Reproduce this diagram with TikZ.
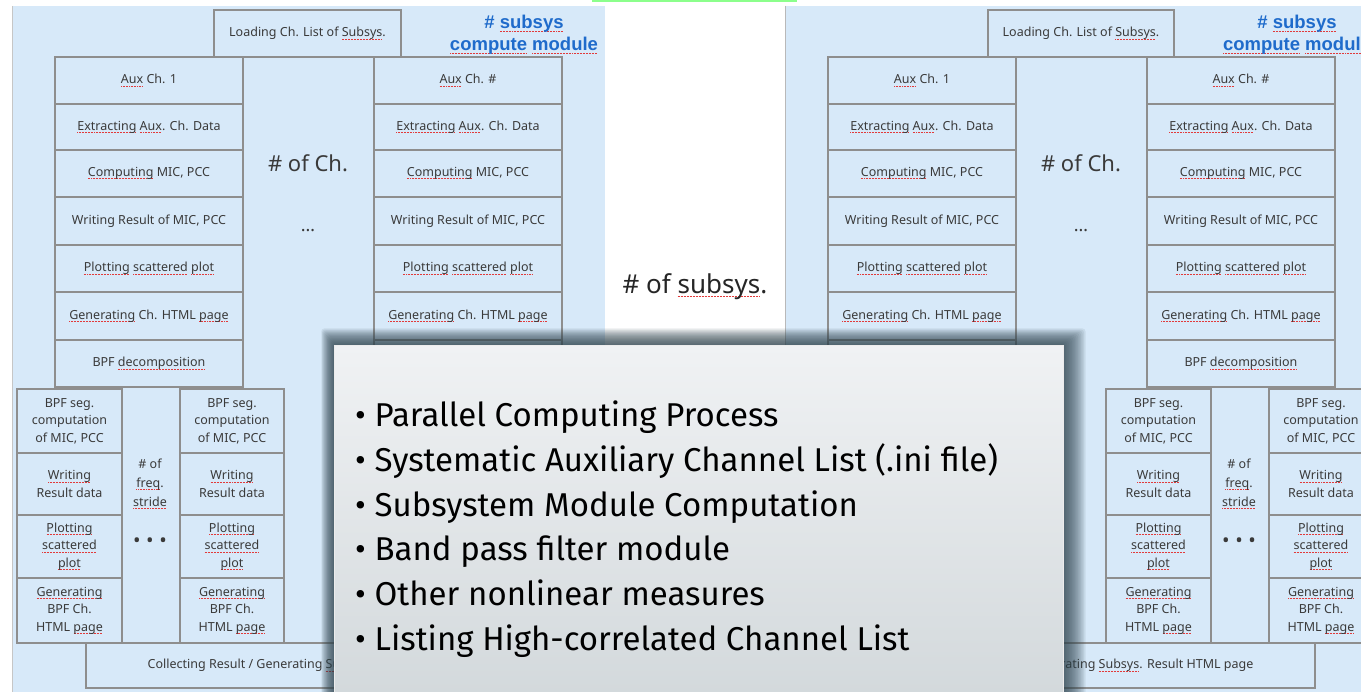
\documentclass[tikz,border=0pt]{standalone}
\usepackage{fontspec}
\setmainfont{Noto Sans}
\newfontfamily\bulletfont[FakeStretch=1.0]{Fira Sans}
\newfontfamily\bluefont{Liberation Sans}
\definecolor{panelblue}{HTML}{D7E9F9}
\definecolor{boxgray}{HTML}{8E8E8E}
\definecolor{txtgray}{HTML}{3A3A3A}
\definecolor{sqred}{HTML}{E23A3A}
\definecolor{bluetxt}{HTML}{1F6BCB}
\definecolor{shadowc}{HTML}{2E434D}
\definecolor{ovtop}{HTML}{F0F2F4}
\definecolor{ovbot}{HTML}{D2D8DB}
\newsavebox\sqbox
\newcommand\sq[1]{\sbox\sqbox{#1}\leavevmode\rlap{\textcolor{sqred}{\raisebox{-2.6pt}{\hbox to \wd\sqbox{\xleaders\hbox{\rule{0.9pt}{0.8pt}\kern0.6pt}\hfill}}}}\usebox\sqbox}
\tikzset{
  cell/.style={draw=boxgray, line width=1.1pt, inner sep=0pt, align=center,
    text=txtgray, font=\fontsize{12.5}{17.5}\selectfont},
  midtxt/.style={inner sep=0pt, align=center, text=txtgray, font=\fontsize{12.5}{19}\selectfont},
  bigtxt/.style={inner sep=0pt, text=txtgray},
  bluelab/.style={inner sep=0pt, anchor=base, text=bluetxt, font=\bluefont\bfseries\fontsize{18.5}{22}\selectfont},
  bul/.style={inner sep=0pt, anchor=base west, text=black, font=\bulletfont\fontsize{33}{40}\selectfont},
}
\newcommand\cell[6]{\node[cell, minimum width={(#4)-(#2)}, minimum height={(#5)-(#3)}] (#1) at ({((#2)+(#4))/2},{((#3)+(#5))/2}) {#6};}
\newcommand\chcol[5]{%
  \cell{#1-r1}{#2}{57}{#3}{104}{#4}
  \cell{#1-r2}{#2}{104}{#3}{150}{\sq{Extracting} \sq{Aux}. Ch. Data}
  \cell{#1-r3}{#2}{150}{#3}{197}{\sq{Computing} MIC, PCC}
  \cell{#1-r4}{#2}{197}{#3}{245}{Writing Result of MIC, PCC}
  \cell{#1-r5}{#2}{245}{#3}{292}{\sq{Plotting} \sq{scattered} \sq{plot}}
  \cell{#1-r6}{#2}{292}{#3}{340}{\sq{Generating} Ch. HTML \sq{page}}
  \cell{#1-r7}{#2}{340}{#3}{387}{#5}}
\newcommand\bpfsub[3]{%
  \cell{#1-s1}{#2}{389}{#3}{453}{BPF seg.\\computation\\of MIC, PCC}
  \cell{#1-s2}{#2}{453}{#3}{515}{\sq{Writing}\\Result data}
  \cell{#1-s3}{#2}{515}{#3}{578}{\sq{Plotting}\\\sq{scattered}\\\sq{plot}}
  \cell{#1-s4}{#2}{578}{#3}{643}{\sq{Generating}\\BPF Ch.\\HTML \sq{page}}}
\newcommand\bpf[2]{%
  \bpfsub{#1-a}{#2}{(#2)+105}
  \bpfsub{#1-b}{(#2)+163}{(#2)+267}
  \node[midtxt] (#1-fs) at ({(#2)+133},484) {\# of\\\sq{freq}.\\\sq{stride}};
  \node[midtxt, font=\fontsize{20}{20}\selectfont] (#1-dots) at ({(#2)+133},543) {•\hspace{5.5pt}•\hspace{5.5pt}•};}
\begin{document}
\begin{tikzpicture}[x=1pt,y=-1pt]
\useasboundingbox (0,0) rectangle (1361,692);
\clip (0,0) rectangle (1361,692);
\fill[white] (0,0) rectangle (1361,692);
% top green strip
\fill[green!45!white] (592,0) rectangle (797,1.8);
% ---------- left panel ----------
\fill[panelblue] (12,6) rectangle (605,692);
\draw[gray!45, line width=0.8pt] (12,6) -- (12,692);
\cell{Lload}{214}{10}{401}{57}{Loading Ch. List of \sq{Subsys}.}
\chcol{LA}{55}{243}{\sq{Aux} Ch. 1}{BPF \sq{decomposition}}
\chcol{LB}{374}{562}{\sq{Aux} Ch. \#}{}
\bpf{LA}{17}
\cell{Lcoll}{86}{643}{542}{688}{Collecting Result / Generating \sq{Subsys}. Result HTML page}
\node[bigtxt, font=\fontsize{22}{26}\selectfont] (Lnch) at (308,163) {\# of Ch.};
\node[bigtxt, font=\fontsize{18}{20}\selectfont] (Ldots) at (308,231) {…};
\node[bluelab] (Lbl1) at (524,29) {\# \sq{subsys}};
\node[bluelab] (Lbl2) at (524,51) {\sq{compute} \sq{module}};
% ---------- middle ----------
\node[bigtxt, text=black!85, font=\fontsize{26}{30}\selectfont] (nsub) at (695,287) {\# of \sq{subsys}.};
% ---------- right panel ----------
\fill[panelblue] (785,6) rectangle (1361,692);
\draw[gray!55, line width=1pt] (785,6) -- (785,692);
\cell{Rload}{988}{10}{1174}{57}{Loading Ch. List of \sq{Subsys}.}
\chcol{RA}{828}{1016}{\sq{Aux} Ch. 1}{}
\chcol{RB}{1147}{1335}{\sq{Aux} Ch. \#}{BPF \sq{decomposition}}
\bpf{RB}{1106}
\cell{Rcoll}{859}{643}{1315}{688}{Collecting Result / Generating \sq{Subsys}. Result HTML page}
\node[bigtxt, font=\fontsize{22}{26}\selectfont] (Rnch) at (1081,163) {\# of Ch.};
\node[bigtxt, font=\fontsize{18}{20}\selectfont] (Rdots) at (1081,231) {…};
\node[bluelab] (Rbl1) at (1297,29) {\# \sq{subsys}};
\node[bluelab] (Rbl2) at (1297,51) {\sq{compute} \sq{module}};
% ---------- overlay with shadow ----------
\foreach \i in {1,...,15}{
  \fill[shadowc, fill opacity=0.09, rounded corners=3pt]
    ({334-0.85*\i},{345-1.1*\i}) rectangle ({1063+1.5*\i},700);
}
\node[inner sep=0pt, anchor=north west, minimum width=729pt, minimum height=360pt,
      top color=ovtop, bottom color=ovbot, draw=white!85!gray, line width=0.6pt] (ov) at (334,345) {};
\node[bul] (l1) at (355,427) {• Parallel Computing Process};
\node[bul] (l2) at (355,471.6) {• Systematic Auxiliary Channel List (.ini file)};
\node[bul] (l3) at (355,516.2) {• Subsystem Module Computation};
\node[bul] (l4) at (355,560.8) {• Band pass filter module};
\node[bul] (l5) at (355,605.4) {• Other nonlinear measures};
\node[bul] (l6) at (355,650) {• Listing High-correlated Channel List};
\end{tikzpicture}
\end{document}
